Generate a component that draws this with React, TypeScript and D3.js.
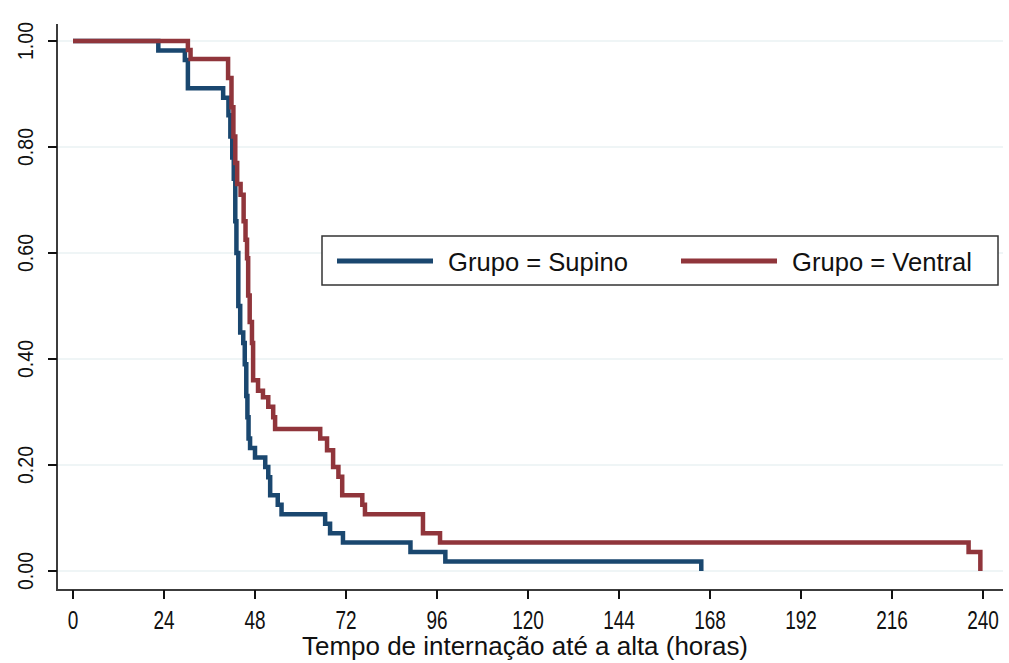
import React from "react";
import * as d3 from "d3";

// Kaplan-Meier steps (hours, survival after the step)
const supinoTime = [0, 22.5, 29.5, 30.3, 39.6, 41.0, 41.5, 42.0, 42.4, 42.8, 43.1, 43.6, 44.1, 44.9, 45.3, 45.7, 46.0, 46.3, 46.7, 48.0, 50.7, 51.5, 52.0, 54.0, 55.0, 66.5, 67.8, 71.2, 89.0, 98.2, 165.7];
const supinoSurv = [1, 0.982, 0.964, 0.911, 0.893, 0.86, 0.82, 0.78, 0.74, 0.66, 0.6, 0.5, 0.45, 0.43, 0.39, 0.33, 0.29, 0.25, 0.232, 0.214, 0.196, 0.177, 0.143, 0.125, 0.107, 0.089, 0.071, 0.054, 0.036, 0.018, 0];

const ventralTime = [0, 30.3, 31.0, 40.9, 41.8, 42.3, 42.8, 43.3, 44.2, 45.0, 45.5, 45.9, 46.2, 46.6, 47.2, 47.5, 48.8, 50.1, 51.5, 52.8, 53.3, 65.2, 67.0, 68.6, 70.0, 71.0, 76.3, 77.0, 92.3, 96.8, 236.2, 239.3];
const ventralSurv = [1, 0.983, 0.966, 0.93, 0.875, 0.82, 0.77, 0.73, 0.71, 0.66, 0.625, 0.59, 0.52, 0.47, 0.43, 0.36, 0.34, 0.328, 0.31, 0.29, 0.268, 0.25, 0.228, 0.196, 0.178, 0.143, 0.125, 0.107, 0.071, 0.054, 0.036, 0];

const xTicks = [0, 24, 48, 72, 96, 120, 144, 168, 192, 216, 240];
const yTicks = [0, 0.2, 0.4, 0.6, 0.8, 1];
const legendLabels = ["Grupo = Supino", "Grupo = Ventral"];

const NAVY = "#1a476f";
const MAROON = "#90353b";
const FONT = "'Liberation Sans', Arial, sans-serif";

export default function App() {
  const width = 1009;
  const height = 663;

  const x = d3.scaleLinear().domain([0, 240]).range([73, 983]);
  const y = d3.scaleLinear().domain([0, 1]).range([571, 41]);

  const axisLeft = 57;
  const axisBottom = 590;
  const plotRight = 1003;

  const line = d3
    .line<[number, number]>()
    .x((d) => x(d[0]))
    .y((d) => y(d[1]))
    .curve(d3.curveStepAfter);

  const supino = supinoTime.map((t, i) => [t, supinoSurv[i]] as [number, number]);
  const ventral = ventralTime.map((t, i) => [t, ventralSurv[i]] as [number, number]);

  return (
    <svg
      width={width}
      height={height}
      style={{ position: "absolute", left: 0, top: 0, background: "#fff" }}
      fontFamily={FONT}
    >
      {/* grid */}
      {yTicks.map((t) => (
        <line key={"g" + t} x1={axisLeft} x2={plotRight} y1={y(t)} y2={y(t)} stroke="#eaf2f3" strokeWidth={1.5} />
      ))}

      {/* curves: ventral drawn last, on top */}
      <path d={line(supino) || ""} fill="none" stroke={NAVY} strokeWidth={4.5} />
      <path d={line(ventral) || ""} fill="none" stroke={MAROON} strokeWidth={4.5} />

      {/* axes */}
      <line x1={axisLeft} x2={axisLeft} y1={24} y2={axisBottom + 1} stroke="#3c3c3c" strokeWidth={2} />
      <line x1={axisLeft - 1} x2={plotRight} y1={axisBottom} y2={axisBottom} stroke="#3c3c3c" strokeWidth={2} />

      {yTicks.map((t) => (
        <g key={"y" + t}>
          <line x1={axisLeft - 9} x2={axisLeft} y1={y(t)} y2={y(t)} stroke="#111" strokeWidth={2} />
          <text
            transform={`translate(33,${y(t)}) rotate(-90)`}
            textAnchor="middle"
            fontSize={22}
            textLength={38}
            lengthAdjust="spacingAndGlyphs"
            fill="#111"
          >
            {t.toFixed(2)}
          </text>
        </g>
      ))}

      {xTicks.map((t) => (
        <g key={"x" + t}>
          <line x1={x(t)} x2={x(t)} y1={axisBottom} y2={axisBottom + 9} stroke="#111" strokeWidth={2} />
          <text
            transform={`translate(${x(t)},629) scale(1,1.35)`}
            textAnchor="middle"
            fontSize={19}
            fill="#111"
          >
            {t}
          </text>
        </g>
      ))}

      <text
        transform="translate(525,655) scale(1,1.2)"
        textAnchor="middle"
        fontSize={21}
        textLength={446}
        lengthAdjust="spacingAndGlyphs"
        fill="#111"
      >
        Tempo de internação até a alta (horas)
      </text>

      {/* legend */}
      <rect x={322} y={236} width={676} height={49} fill="#fff" stroke="#333" strokeWidth={1.5} />
      {[NAVY, MAROON].map((c, i) => (
        <g key={c} transform={`translate(${337 + i * 344},0)`}>
          <line x1={0} x2={96} y1={261} y2={261} stroke={c} strokeWidth={5} />
          <text
            transform="translate(111,271) scale(1,1.12)"
            fontSize={23}
            textLength={180}
            lengthAdjust="spacingAndGlyphs"
            fill="#111"
          >
            {legendLabels[i]}
          </text>
        </g>
      ))}
    </svg>
  );
}
